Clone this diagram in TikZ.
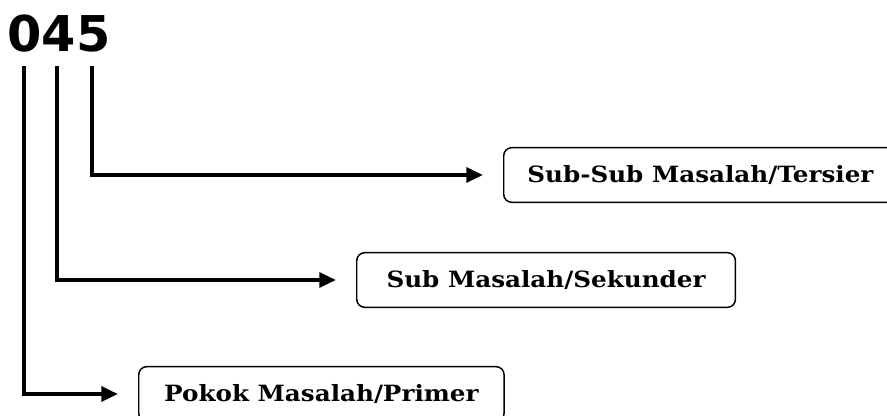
\documentclass[tikz,border=0pt]{standalone}
\usepackage{fontspec}
\usepackage{tikz}
\usetikzlibrary{arrows.meta}
\newfontfamily\boxfont[FakeStretch=1.1]{DejaVu Serif}
\newfontfamily\numfont{DejaVu Sans}

\begin{document}
\begin{tikzpicture}[x=0.75pt,y=-0.75pt]
        \tikzstyle{kotak}=[draw, rounded corners=6pt, line width=1.1pt, minimum height=41pt, anchor=west, font=\boxfont\bfseries\fontsize{16.8}{18}\selectfont];
        \tikzstyle{panah}=[line width=3pt, -{Triangle[length=12.5pt,width=11pt]}, shorten >=15pt];
        \useasboundingbox (0,0) rectangle (887,416);
        \node[font=\numfont\bfseries\fontsize{37}{40}\selectfont] (kode) at (59,34) {045};
        % titik awal tiap garis
        \coordinate (d0) at (24,66);
        \coordinate (d4) at (57,66);
        \coordinate (d5) at (92,66);
        \node[kotak, minimum width=295pt] (tersier) at (503,175) {Sub-Sub Masalah/Tersier};
        \node[kotak, minimum width=284pt] (sekunder) at (356,280) {Sub Masalah/Sekunder};
        \node[kotak, minimum width=274pt] (primer) at (138,394) {Pokok Masalah/Primer};
        \draw[panah] (d5) |- (tersier.west);
        \draw[panah] (d4) |- (sekunder.west);
        \draw[panah] (d0) |- (primer.west);
\end{tikzpicture}
\end{document}
